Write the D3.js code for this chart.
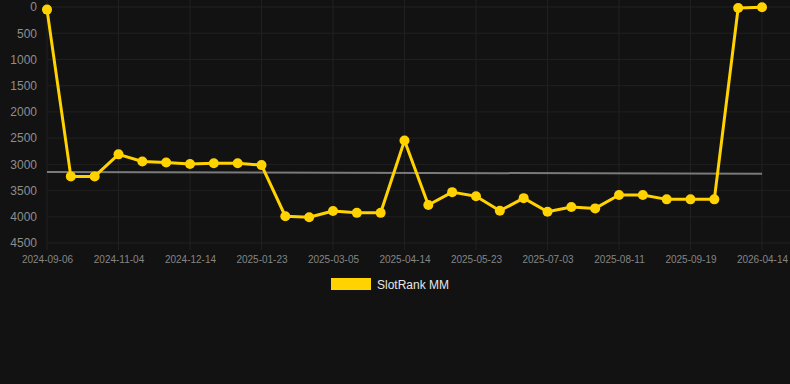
<!DOCTYPE html>
<html>
<head>
<meta charset="utf-8">
<script src="https://cdn.jsdelivr.net/npm/d3@7"></script>
<style>
  html, body { margin: 0; padding: 0; background: #121212; }
  svg { display: block; font-family: "Liberation Sans", Arial, sans-serif; }
</style>
</head>
<body>
<svg id="chart" width="790" height="384"></svg>
<script>
// tick labels (every third point carries a date)
var dates = ["2024-09-06","","","2024-11-04","","","2024-12-14","","","2025-01-23","","",
  "2025-03-05","","","2025-04-14","","","2025-05-23","","","2025-07-03","","",
  "2025-08-11","","","2025-09-19","","","2026-04-14"];
// SlotRank MM (rank, lower is better)
var ranks = [50, 3230, 3230, 2810, 2945, 2965, 2995, 2980, 2980, 3015, 3990, 4010,
  3890, 3925, 3925, 2545, 3775, 3530, 3610, 3885, 3645, 3905, 3815, 3840,
  3585, 3585, 3668, 3668, 3668, 20, 5];
var trend = [3145, 3180];
var yTicks = [0, 500, 1000, 1500, 2000, 2500, 3000, 3500, 4000, 4500];

var svg = d3.select("#chart");
var plotL = 47, plotR = 762, plotT = 7, plotB = 243;

var x = d3.scalePoint()
  .domain(d3.range(ranks.length))
  .range([plotL, plotR]);
var y = d3.scaleLinear()
  .domain([0, 4500])
  .range([plotT, plotB]);

// grid
var grid = svg.append("g");
grid.selectAll("line.h")
  .data(yTicks)
  .enter().append("line")
  .attr("x1", plotL).attr("x2", 790)
  .attr("y1", function(d) { return y(d); })
  .attr("y2", function(d) { return y(d); })
  .attr("stroke", "#202020").attr("stroke-width", 1);
grid.selectAll("line.v")
  .data(d3.range(0, ranks.length, 3))
  .enter().append("line")
  .attr("x1", function(d) { return x(d); })
  .attr("x2", function(d) { return x(d); })
  .attr("y1", 0).attr("y2", plotB + 7)
  .attr("stroke", "#202020").attr("stroke-width", 1);

// y axis
var yAxis = svg.append("g")
  .attr("transform", "translate(" + (plotL - 10) + ",0)")
  .call(d3.axisLeft(y).tickValues(yTicks).tickSize(0).tickPadding(0)
    .tickFormat(d3.format("d")));
yAxis.select(".domain").remove();
yAxis.selectAll("text")
  .attr("fill", "#8e8e8e")
  .style("font-size", "12px");

// x axis
var xAxis = svg.append("g")
  .attr("transform", "translate(0," + (plotB + 13) + ")")
  .call(d3.axisBottom(x).tickSize(0).tickPadding(0)
    .tickFormat(function(d) { return dates[d]; }));
xAxis.select(".domain").remove();
xAxis.selectAll("text")
  .attr("fill", "#858585")
  .style("font-size", "10px");

// trend line
svg.append("line")
  .attr("x1", x(0)).attr("x2", x(ranks.length - 1))
  .attr("y1", y(trend[0])).attr("y2", y(trend[1]))
  .attr("stroke", "#7a7a7a").attr("stroke-width", 2);

// series
var line = d3.line()
  .x(function(d, i) { return x(i); })
  .y(function(d) { return y(d); });
svg.append("path")
  .datum(ranks)
  .attr("d", line)
  .attr("fill", "none")
  .attr("stroke", "#ffd200")
  .attr("stroke-width", 3)
  .attr("stroke-linejoin", "round");
svg.selectAll("circle.pt")
  .data(ranks)
  .enter().append("circle")
  .attr("class", "pt")
  .attr("cx", function(d, i) { return x(i); })
  .attr("cy", function(d) { return y(d); })
  .attr("r", 5)
  .attr("fill", "#ffd200");

// legend
var lg = svg.append("g").attr("transform", "translate(331,278)");
lg.append("rect").attr("width", 40).attr("height", 12).attr("fill", "#ffd200");
lg.append("text")
  .attr("x", 46).attr("y", 10.5)
  .attr("fill", "#e6e6e6")
  .style("font-size", "12px")
  .text("SlotRank MM");
</script>
</body>
</html>
